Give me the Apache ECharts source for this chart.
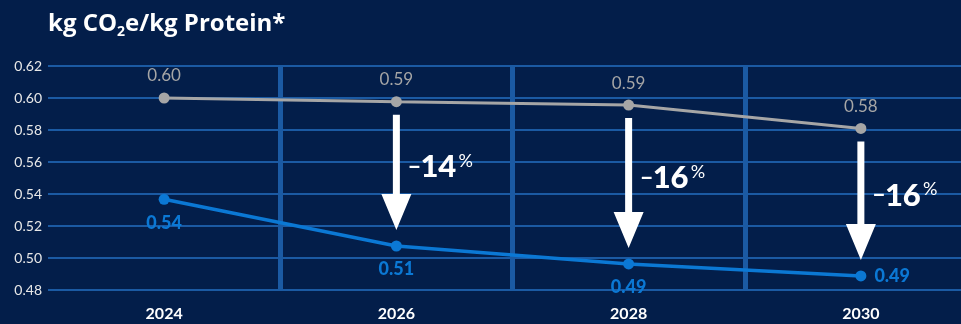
<!DOCTYPE html>
<html>
<head>
<meta charset="utf-8">
<script src="https://cdn.jsdelivr.net/npm/echarts@6/dist/echarts.min.js"></script>
<style>
html,body{margin:0;padding:0;background:#031e4a;}
#c{width:961px;height:324px;}
</style>
</head>
<body>
<div id="c"></div>
<script>
// ---- data ----
var years = ['2024', '2026', '2028', '2030'];
var baselineValues = [0.600, 0.5977, 0.5956, 0.581];
var targetValues = [0.5367, 0.5075, 0.4963, 0.4888];
var baselineLabels = ['0.60', '0.59', '0.59', '0.58'];
var targetLabels = ['0.54', '0.51', '0.49', '0.49'];
var reductionLabels = ['', '14', '16', '16'];
var yTicks = { min: 0.48, max: 0.62, interval: 0.02 };

var BG = '#031e4a';
var GRID = '#1b5aa3';
var GRAY = '#a6a6a6';
var BLUE = '#0b78d4';
var FONT = 'Lato, "Noto Sans", sans-serif';
var TFONT = '"Open Sans", Lato, sans-serif';

var chart = echarts.init(document.getElementById('c'), null, { renderer: 'canvas' });

var targetData = targetValues.map(function (v, i) {
  var item = { value: v };
  if (i === targetValues.length - 1) {
    item.label = { position: 'right', distance: 8 };
  }
  return item;
});

var arrowData = [];
for (var i = 1; i < years.length; i++) {
  arrowData.push([i, baselineValues[i], targetValues[i]]);
}

function renderArrow(params, api) {
  var idx = api.value(0);
  var p1 = api.coord([idx, api.value(1)]);
  var p2 = api.coord([idx, api.value(2)]);
  var x = p1[0];
  var top = p1[1] + 13;
  var tip = p2[1] - 16;
  var headTop = tip - 36;
  var sw = 3.5, hw = 15;
  var mid = (top + tip) / 2 - 6;
  var pct = reductionLabels[idx];
  return {
    type: 'group',
    children: [
      {
        type: 'polygon',
        shape: { points: [[x - sw, top], [x + sw, top], [x + sw, headTop], [x + hw, headTop], [x, tip], [x - hw, headTop], [x - sw, headTop]] },
        style: { fill: '#ffffff' }
      },
      {
        type: 'text',
        style: { x: x + 11, y: mid, text: '\u2013', fill: '#ffffff', font: 'bold 24px ' + FONT, verticalAlign: 'middle', align: 'left' }
      },
      {
        type: 'text',
        style: { x: x + 24, y: mid + 1, text: pct, fill: '#ffffff', font: '900 31px ' + FONT, verticalAlign: 'middle', align: 'left' }
      },
      {
        type: 'text',
        style: { x: x + 62, y: mid - 5, text: '%', fill: '#ffffff', font: 'normal 18px ' + FONT, verticalAlign: 'middle', align: 'left' }
      }
    ]
  };
}

var option = {
  backgroundColor: BG,
  animation: false,
  title: {
    left: 43,
    top: 4,
    text: '{a|kg CO}{s|2}{a|e/kg Protein*}',
    textStyle: {
      rich: {
        a: { fontFamily: TFONT, fontWeight: 'bold', fontSize: 24, color: '#ffffff', lineHeight: 30 },
        s: { fontFamily: TFONT, fontWeight: 'bold', fontSize: 14, color: '#ffffff', lineHeight: 9, verticalAlign: 'bottom' }
      }
    }
  },
  grid: { left: 48, top: 66, width: 929, height: 224, containLabel: false, outerBoundsMode: 'none' },
  xAxis: {
    type: 'category',
    data: years,
    boundaryGap: true,
    axisLine: { show: false },
    axisTick: { show: false },
    axisLabel: { color: '#ffffff', fontFamily: FONT, fontWeight: 'bold', fontSize: 16, margin: 16 },
    splitLine: {
      show: true,
      interval: function (index) { return index > 0; },
      lineStyle: { color: GRID, width: 5 }
    }
  },
  yAxis: {
    type: 'value',
    min: yTicks.min,
    max: yTicks.max,
    interval: yTicks.interval,
    axisLine: { show: false },
    axisTick: { show: false },
    axisLabel: {
      color: '#e8e8e8', fontFamily: FONT, fontSize: 14, margin: 6,
      formatter: function (v) { return v.toFixed(2); }
    },
    splitLine: { show: true, lineStyle: { color: GRID, width: 2 } }
  },
  series: [
    {
      name: 'Baseline',
      type: 'line',
      data: baselineValues,
      symbol: 'circle',
      symbolSize: 11,
      lineStyle: { color: GRAY, width: 3 },
      itemStyle: { color: GRAY },
      label: {
        show: true, position: 'top', distance: 8,
        color: GRAY, fontFamily: FONT, fontSize: 17,
        formatter: function (p) { return baselineLabels[p.dataIndex]; }
      },
      z: 3
    },
    {
      name: 'Target',
      type: 'line',
      data: targetData,
      symbol: 'circle',
      symbolSize: 11,
      lineStyle: { color: BLUE, width: 3.5 },
      itemStyle: { color: BLUE },
      label: {
        show: true, position: 'bottom', distance: 9,
        color: BLUE, fontFamily: FONT, fontWeight: 900, fontSize: 18,
        formatter: function (p) { return targetLabels[p.dataIndex]; }
      },
      z: 3
    },
    {
      type: 'custom',
      data: arrowData,
      renderItem: renderArrow,
      encode: { x: 0, y: [1, 2] },
      z: 5,
      silent: true
    }
  ]
};

chart.setOption(option);
</script>
</body>
</html>
